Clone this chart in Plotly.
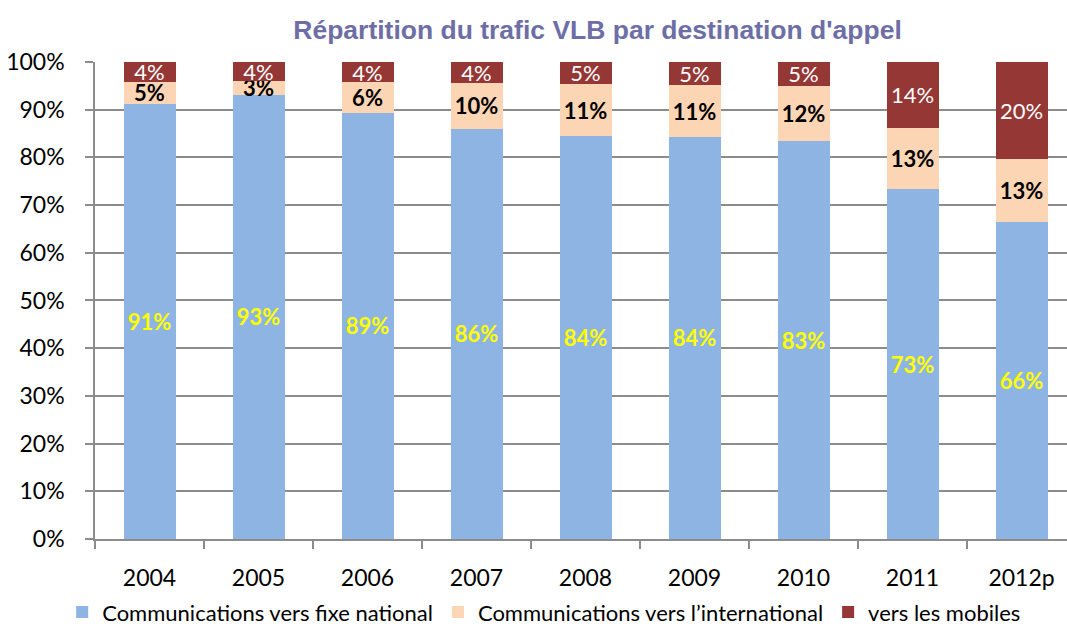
import plotly.graph_objects as go

years = ["2004", "2005", "2006", "2007", "2008", "2009", "2010", "2011", "2012p"]
fixe_national = [91.2, 93.1, 89.4, 86.0, 84.4, 84.3, 83.4, 73.3, 66.4]
international = [4.7, 3.0, 6.4, 9.6, 11.0, 10.8, 11.6, 12.9, 13.3]
mobiles = [4.1, 3.9, 4.2, 4.4, 4.6, 4.9, 5.0, 13.8, 20.3]
y_ticks = [0, 10, 20, 30, 40, 50, 60, 70, 80, 90, 100]
y_tick_labels = [f"{v}%" for v in y_ticks]

FONT = "Lato"

def labels(vals):
    return [f"{round(v)}%" for v in vals]

fig = go.Figure()
fig.add_trace(go.Bar(
    x=years, y=fixe_national, name="Communications vers fixe national",
    marker=dict(color="#8EB4E3", line=dict(width=0)),
    text=labels(fixe_national), textposition="inside", insidetextanchor="middle",
    textangle=0, textfont=dict(family=FONT, size=22, color="#FFFF00", weight="bold"),
))
fig.add_trace(go.Bar(
    x=years, y=international, name="Communications vers l’international",
    marker=dict(color="#FCD5B5", line=dict(width=0)),
    text=labels(international), textposition="inside", insidetextanchor="middle",
    textangle=0, textfont=dict(family=FONT, size=22, color="#000000", weight="bold"),
))
fig.add_trace(go.Bar(
    x=years, y=mobiles, name="vers les mobiles",
    marker=dict(color="#953735", line=dict(width=0)),
    text=labels(mobiles), textposition="inside", insidetextanchor="middle",
    textangle=0, textfont=dict(family=FONT, size=22, color="#FFFFFF"),
))

fig.update_layout(
    barmode="stack",
    bargap=0.523,
    width=1067, height=628,
    margin=dict(l=95, r=0, t=62, b=87),
    paper_bgcolor="white", plot_bgcolor="white",
    uniformtext=dict(minsize=22, mode="show"),
    title=dict(
        text="Répartition du trafic VLB par destination d'appel",
        font=dict(family="Liberation Sans, Arial", size=26.5, color="#6E6EA6", weight="bold"),
        x=0.56, xref="container", xanchor="center",
        y=0.952, yref="container", yanchor="middle",
    ),
    legend=dict(
        orientation="h", xref="container", yref="container",
        x=0.51, xanchor="center", y=0.025, yanchor="middle",
        font=dict(family=FONT, size=22, color="#000000"),
        itemwidth=30, traceorder="normal",
    ),
    showlegend=True,
)
fig.update_xaxes(
    type="category",
    range=[-0.5, 8.417],
    showline=True, linecolor="#8C8C8C", linewidth=1.5,
    ticks="outside", tickson="boundaries", ticklen=8, tickcolor="#8C8C8C", tickwidth=1.5,
    tickfont=dict(family=FONT, size=23, color="#000000"),
    ticklabelstandoff=18,
    showgrid=False,
)
fig.update_yaxes(
    range=[0, 100],
    tickvals=y_ticks, ticktext=y_tick_labels,
    showline=True, linecolor="#8C8C8C", linewidth=1.5,
    ticks="outside", ticklen=8, tickcolor="#8C8C8C", tickwidth=1.5,
    showgrid=True, gridcolor="#8C8C8C", gridwidth=1.5,
    tickfont=dict(family=FONT, size=23, color="#000000"),
    ticklabelstandoff=16,
    zeroline=False,
)

fig.write_html("out.html", post_script="document.body.style.margin='0';",
               config={"displayModeBar": False})
